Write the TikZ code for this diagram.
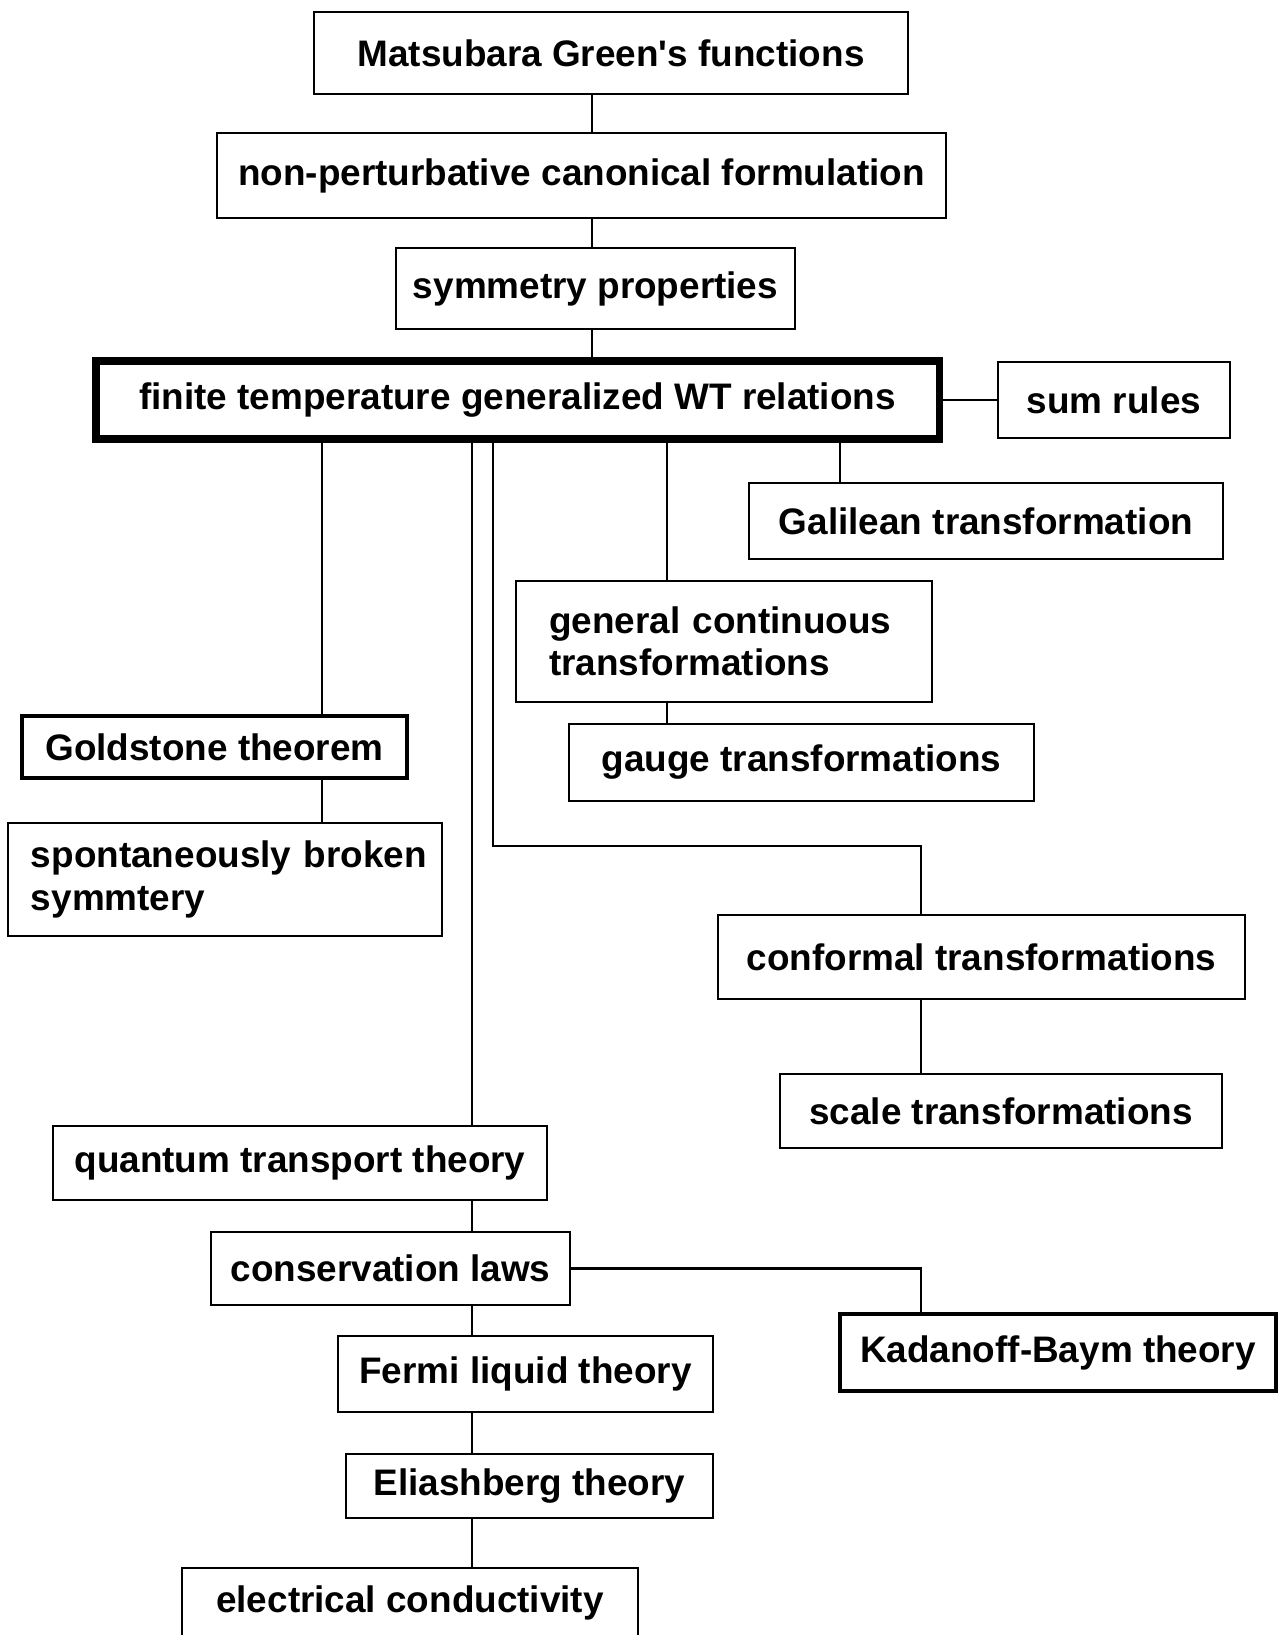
\documentclass[tikz,border=0pt]{standalone}
\usepackage{fontspec}
\setmainfont{Liberation Sans}[Ligatures=TeXOff]

\begin{document}
\begin{tikzpicture}[
    box/.style={draw, line width=0.7pt, inner sep=0pt,
        font=\bfseries\fontsize{10.5}{12}\selectfont},
    thickbox/.style={box, line width=1.2pt},
    heavybox/.style={box, line width=2pt},
    link/.style={line width=0.6pt}]
    \useasboundingbox (0,0) rectangle (12.79,-16.35);
    \clip (0,0) rectangle (12.79,-16.35);

    % main column
    \node[box, minimum width=5.94cm, minimum height=0.815cm] (mats) at (6.11,-0.53) {Matsubara Green's functions};
    \node[box, minimum width=7.29cm, minimum height=0.85cm] (nonpert) at (5.815,-1.755) {non-perturbative canonical formulation};
    \node[box, minimum width=3.99cm, minimum height=0.81cm] (symm) at (5.955,-2.885) {symmetry properties};
    \node[heavybox, minimum width=8.43cm, minimum height=0.78cm] (wti) at (5.175,-4.00) {finite temperature generalized WT relations};
    \node[box, minimum width=2.32cm, minimum height=0.76cm] (sum) at (11.14,-4.00) {sum rules};

    % transformations
    \node[box, minimum width=4.74cm, minimum height=0.76cm] (gal) at (9.86,-5.21) {Galilean transformation};
    \node[box, minimum width=4.16cm, minimum height=1.21cm, text width=3.50cm, align=left] (gen) at (7.24,-6.415) {\mbox{general continuous}\\transformations};
    \node[box, minimum width=4.65cm, minimum height=0.77cm] (gauge) at (8.015,-7.625) {gauge transformations};
    \node[box, minimum width=5.27cm, minimum height=0.84cm] (conf) at (9.815,-9.57) {conformal transformations};
    \node[box, minimum width=4.42cm, minimum height=0.74cm] (scale) at (10.01,-11.11) {scale transformations};

    % Goldstone branch
    \node[thickbox, minimum width=3.85cm, minimum height=0.62cm] (gold) at (2.145,-7.47) {Goldstone theorem};
    \node[box, minimum width=4.34cm, minimum height=1.13cm, text width=3.88cm, align=left] (spont) at (2.25,-8.795) {\mbox{spontaneously broken}\\symmtery};

    % transport branch
    \node[box, minimum width=4.94cm, minimum height=0.74cm] (qt) at (3.00,-11.63) {quantum transport theory};
    \node[box, minimum width=3.59cm, minimum height=0.73cm] (cons) at (3.905,-12.685) {conservation laws};
    \node[thickbox, minimum width=4.36cm, minimum height=0.77cm] (kad) at (10.58,-13.525) {Kadanoff-Baym theory};
    \node[box, minimum width=3.75cm, minimum height=0.76cm] (fermi) at (5.255,-13.74) {Fermi liquid theory};
    \node[box, minimum width=3.67cm, minimum height=0.64cm] (elias) at (5.295,-14.86) {Eliashberg theory};
    \node[box, minimum width=4.56cm, minimum height=0.70cm] (elec) at (4.10,-16.03) {electrical conductivity};

    % columns of the connectors
    \coordinate (xspine) at (5.92,0);
    \coordinate (xgold) at (3.22,0);
    \coordinate (xqt) at (4.72,0);
    \coordinate (xconf) at (4.93,0);
    \coordinate (xgen) at (6.67,0);
    \coordinate (xgal) at (8.40,0);
    \coordinate (elbow) at (9.21,-8.46);

    \draw[link] (mats.south -| xspine) -- (nonpert.north -| xspine);
    \draw[link] (nonpert.south -| xspine) -- (symm.north -| xspine);
    \draw[link] (symm.south -| xspine) -- (wti.north -| xspine);
    \draw[link] (wti.east) -- (sum.west);
    \draw[link] (wti.south -| xgal) -- (gal.north -| xgal);
    \draw[link] (wti.south -| xgen) -- (gen.north -| xgen);
    \draw[link] (gen.south -| xgen) -- (gauge.north -| xgen);
    \draw[link] (wti.south -| xgold) -- (gold.north -| xgold);
    \draw[link] (gold.south -| xgold) -- (spont.north -| xgold);
    \draw[link] (wti.south -| xconf) |- (elbow) -- (conf.north -| elbow);
    \draw[link] (conf.south -| elbow) -- (scale.north -| elbow);
    \draw[link] (wti.south -| xqt) -- (qt.north -| xqt);
    \draw[link] (qt.south -| xqt) -- (cons.north -| xqt);
    \draw[link] (cons.east) -| (kad.north -| elbow);
    \draw[link] (cons.south -| xqt) -- (fermi.north -| xqt);
    \draw[link] (fermi.south -| xqt) -- (elias.north -| xqt);
    \draw[link] (elias.south -| xqt) -- (elec.north -| xqt);
\end{tikzpicture}
\end{document}
